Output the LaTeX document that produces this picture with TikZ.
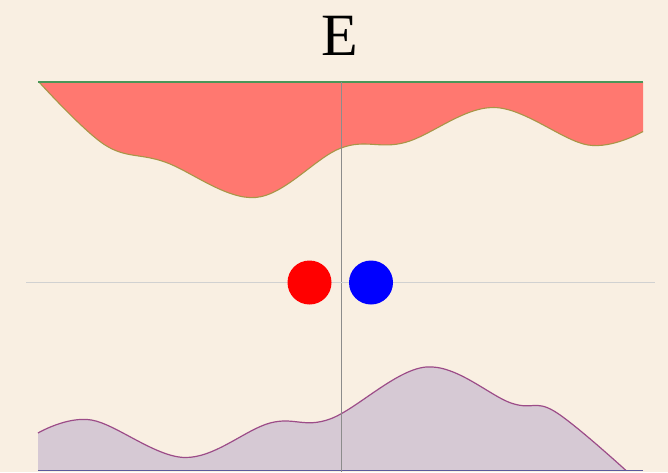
\documentclass[tikz,border=0pt]{standalone}
\usepackage{amsmath}
\usepackage{fontspec}
\usetikzlibrary{calc, positioning}

\newfontfamily\titlefont{Liberation Serif}

\definecolor{paper}{RGB}{249,239,226}
\definecolor{salmon}{RGB}{255,120,112}
\definecolor{olive}{RGB}{168,150,72}
\definecolor{topgreen}{RGB}{74,150,88}
\definecolor{lilac}{RGB}{214,201,212}
\definecolor{plum}{RGB}{156,76,136}
\definecolor{navy}{RGB}{92,90,156}

\begin{document}
\begin{tikzpicture}[x=1pt,y=-1pt,
  upper/.style={fill=salmon},
  uppercurve/.style={draw=olive, line width=1.1pt},
  lower/.style={fill=lilac},
  lowercurve/.style={draw=plum, line width=1.2pt},
  axisline/.style={draw=black!45, line width=0.7pt},
  levelline/.style={draw=black!18, line width=1.6pt}]
\def\xL{38}
\def\xR{643}
\def\yTop{82}
\def\yMid{282.5}
\def\yBot{470.5}
\def\upperpts{(39,82) (105,145) (165,162) (255.5,197.5) (341,148) (405,142.5) (494,107.5) (588,145) (643,131.5)}
\def\lowerpts{(38,433) (91.5,420) (185,457.5) (270,423) (330,419) (426,367) (511,403) (554,411) (626,470.5)}
\coordinate (O) at (0,0);
\coordinate (End) at (668,472);
\coordinate (TL) at (\xL,\yTop);
\coordinate (TR) at (\xR,\yTop);
\coordinate (BL) at (\xL,\yBot);
\coordinate (BR) at (\xR,\yBot);

\fill[paper] (O) rectangle (End);
\useasboundingbox (O) rectangle (End);

% upper band
\fill[upper] (TL) -- plot[smooth, tension=0.6] coordinates {\upperpts} -- (TR) -- cycle;
\draw[uppercurve] plot[smooth, tension=0.6] coordinates {\upperpts};

% lower band
\fill[lower] (BL) -- plot[smooth, tension=0.6] coordinates {\lowerpts} -- (BR) -- cycle;
\draw[lowercurve] plot[smooth, tension=0.6] coordinates {\lowerpts};

\draw[navy, line width=1.8pt] (BL) -- (BR);
\draw[topgreen, line width=1.6pt] (TL) -- (TR);

\draw[axisline] (341,\yTop) -- (341,472);
\draw[levelline] (26,\yMid) -- (655,\yMid);

\fill[red] (309.5,\yMid) circle (22);
\fill[blue] (371,\yMid) circle (22);

\node[anchor=base, inner sep=0pt] (title) at (340,55) {\titlefont\fontsize{60}{60}\selectfont E};

\end{tikzpicture}
\end{document}
